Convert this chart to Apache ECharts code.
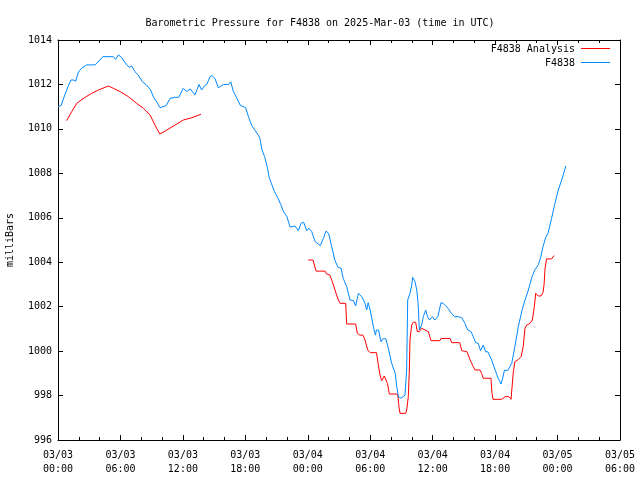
<!DOCTYPE html>
<html>
<head>
<meta charset="utf-8">
<script src="https://cdn.jsdelivr.net/npm/echarts@6/dist/echarts.min.js"></script>
<style>html,body{margin:0;padding:0;background:#fff}#c{width:640px;height:480px}</style>
</head>
<body>
<div id="c"></div>
<script>
// Hours since 2025-03-03 00:00 UTC
const xTickLabels = ['03/03\n00:00','03/03\n06:00','03/03\n12:00','03/03\n18:00','03/04\n00:00','03/04\n06:00','03/04\n12:00','03/04\n18:00','03/05\n00:00','03/05\n06:00'];

const blueHours = [0.0,0.3,0.67,1.0,1.25,1.5,1.7,1.95,2.27,2.75,3.1,3.55,4.04,4.3,5.0,5.3,5.54,5.8,6.1,6.6,6.85,7.08,7.4,7.7,8.1,8.5,8.9,9.16,9.5,9.8,9.96,10.4,10.76,11.2,11.6,12.04,12.37,12.7,13.16,13.55,13.8,14.1,14.3,14.6,14.8,15.1,15.4,15.57,15.9,16.4,16.6,16.85,17.2,17.5,17.65,18.03,18.3,18.6,18.9,19.25,19.4,19.6,19.85,20.1,20.3,20.5,20.8,21.1,21.4,21.7,22.0,22.3,22.77,23.1,23.35,23.6,23.9,24.1,24.38,24.7,25.2,25.5,25.75,26.0,26.3,26.6,26.9,27.2,27.4,27.74,28.06,28.4,28.6,28.86,29.2,29.5,29.66,29.8,30.0,30.3,30.5,30.6,30.8,31.04,31.26,31.5,31.74,32.06,32.4,32.55,32.7,32.96,33.08,33.34,33.5,33.6,33.82,33.99,34.08,34.3,34.47,34.6,34.72,34.94,35.1,35.33,35.5,35.7,35.97,36.2,36.5,36.8,37.0,37.5,37.8,38.1,38.47,38.8,39.1,39.37,39.68,39.9,40.13,40.38,40.6,40.86,41.1,41.3,41.67,42.0,42.3,42.57,42.73,42.9,43.2,43.37,43.6,43.9,44.23,44.55,44.87,45.2,45.5,45.8,46.15,46.4,46.6,46.86,47.1,47.43,47.75,48.07,48.4,48.8];
const blueValues = [1011.0,1011.05,1011.55,1011.95,1012.2,1012.2,1012.15,1012.55,1012.73,1012.88,1012.88,1012.88,1013.1,1013.25,1013.25,1013.25,1013.13,1013.33,1013.22,1012.88,1012.77,1012.83,1012.57,1012.43,1012.12,1011.98,1011.75,1011.45,1011.2,1010.95,1011.0,1011.05,1011.37,1011.42,1011.42,1011.83,1011.68,1011.8,1011.53,1012.0,1011.75,1011.95,1012.0,1012.35,1012.4,1012.25,1011.85,1011.83,1012.0,1012.0,1012.12,1011.68,1011.37,1011.07,1011.0,1010.95,1010.55,1010.17,1009.95,1009.72,1009.57,1009.05,1008.75,1008.3,1007.8,1007.55,1007.17,1006.92,1006.6,1006.25,1006.05,1005.58,1005.63,1005.42,1005.75,1005.8,1005.42,1005.53,1005.38,1004.93,1004.75,1005.07,1005.4,1005.3,1004.7,1004.1,1003.77,1003.73,1003.28,1002.9,1002.3,1002.27,1002.03,1002.6,1002.45,1002.15,1001.85,1002.18,1001.85,1001.1,1000.72,1000.95,1000.95,1000.42,1000.57,1000.55,1000.13,999.45,999.0,998.4,997.95,997.88,997.8,998.02,999.15,1002.3,1002.6,1002.97,1003.32,1003.13,1002.75,1002.15,1000.95,1001.17,1001.55,1001.85,1001.55,1001.4,1001.55,1001.4,1001.55,1002.18,1002.15,1001.92,1001.7,1001.55,1001.55,1001.5,1001.25,1000.95,1000.88,1000.65,1000.38,1000.35,1000.02,1000.27,999.97,999.97,999.6,999.15,998.78,998.52,998.78,999.15,999.12,999.1,999.45,1000.2,1001.1,1001.77,1002.3,1002.75,1003.28,1003.65,1003.88,1004.25,1004.7,1005.12,1005.33,1005.98,1006.65,1007.25,1007.7,1008.33];

// '-' marks the gap in the analysis series
const redHours = [0.83,1.31,1.8,2.6,3.23,3.88,4.84,5.3,5.96,6.76,7.56,8.2,8.84,9.32,9.78,10.28,11.24,12.04,12.85,13.74,18.0,24.05,24.5,24.8,25.66,25.8,26.1,26.36,26.55,26.77,26.94,27.1,27.64,27.74,28.6,28.76,29.0,29.3,29.5,29.76,30.0,30.6,30.78,30.94,31.1,31.35,31.5,31.65,31.84,32.64,32.77,32.86,33.4,33.5,33.66,33.76,33.82,33.98,34.14,34.37,34.52,34.72,34.94,35.26,35.58,35.84,36.7,36.8,37.67,37.83,38.6,38.8,39.3,39.6,39.9,40.07,40.55,40.7,40.86,41.6,41.7,41.8,42.63,42.95,43.33,43.53,43.65,43.75,43.9,44.23,44.5,44.7,44.87,45.03,45.35,45.58,45.77,45.9,46.15,46.4,46.6,46.7,46.8,46.95,47.43,47.66];
const redValues = [1010.37,1010.77,1011.15,1011.42,1011.6,1011.75,1011.93,1011.83,1011.68,1011.45,1011.15,1010.93,1010.63,1010.17,1009.77,1009.9,1010.17,1010.4,1010.5,1010.66,'-',1004.1,1004.1,1003.6,1003.6,1003.47,1003.43,1003.13,1003.05,1002.52,1002.3,1002.15,1002.15,1001.22,1001.22,1000.8,1000.72,1000.72,1000.5,1000.05,999.93,999.93,999.38,998.93,998.67,998.88,998.97,998.55,998.07,998.07,997.47,997.2,997.2,997.35,997.95,999.15,1000.5,1001.17,1001.3,1001.3,1000.88,1000.88,1001.03,1000.95,1000.88,1000.47,1000.47,1000.57,1000.57,1000.38,1000.38,1000.02,999.97,999.6,999.3,999.15,999.15,999.0,998.78,998.78,998.1,997.83,997.83,997.95,997.95,997.83,997.83,999.07,999.52,999.62,999.75,1000.2,1001.03,1001.17,1001.25,1001.4,1002.0,1002.6,1002.48,1002.48,1002.63,1002.97,1003.73,1004.15,1004.15,1004.3];

const seriesNames = ['F4838 Analysis','F4838'];
const seriesColors = ['#ff0000','#0088ff'];

const FONT = '"DejaVu Sans Mono", "Liberation Mono", monospace';
const chart = echarts.init(document.getElementById('c'), null, {renderer:'canvas'});

const tickCommon = {show:true, inside:true, length:5, lineStyle:{color:'#000', width:1}};
const minorCommon = {show:true, splitNumber:3, length:3, lineStyle:{color:'#000', width:1}};
const lineCommon = {show:true, onZero:false, lineStyle:{color:'#000', width:1}};

chart.setOption({
  animation:false,
  backgroundColor:'#fff',
  title:{text:'Barometric Pressure for F4838 on 2025-Mar-03 (time in UTC)', left:'center', top:13,
    textStyle:{fontFamily:FONT, fontSize:10, fontWeight:'normal', color:'#000'}},
  grid:{left:58, right:20, top:40, bottom:40, containLabel:false, outerBoundsMode:'none'},
  xAxis:[
    {type:'value', min:0, max:54, interval:6, position:'bottom',
     axisLine:lineCommon, axisTick:tickCommon, minorTick:minorCommon, splitLine:{show:false},
     axisLabel:{margin:8, lineHeight:14, fontFamily:FONT, fontSize:10, color:'#000',
       formatter:v=>xTickLabels[Math.round(v/6)]}},
    {type:'value', min:0, max:54, interval:6, position:'top',
     axisLine:lineCommon, axisTick:tickCommon, minorTick:minorCommon, splitLine:{show:false},
     axisLabel:{show:false}}
  ],
  yAxis:[
    {type:'value', min:996, max:1014, interval:2, position:'left',
     name:'milliBars', nameLocation:'middle', nameGap:43, nameRotate:90,
     nameTextStyle:{fontFamily:FONT, fontSize:10, color:'#000'},
     axisLine:lineCommon, axisTick:tickCommon, splitLine:{show:false},
     axisLabel:{margin:6, fontFamily:FONT, fontSize:10, color:'#000', formatter:v=>String(v)}},
    {type:'value', min:996, max:1014, interval:2, position:'right',
     axisLine:lineCommon, axisTick:tickCommon, splitLine:{show:false},
     axisLabel:{show:false}}
  ],
  graphic:[
    {type:'text', style:{text:seriesNames[0], x:575, y:49, textAlign:'right', textVerticalAlign:'middle', font:'10px '+FONT, fill:'#000'}},
    {type:'line', shape:{x1:581, y1:48.5, x2:610, y2:48.5}, style:{stroke:seriesColors[0], lineWidth:1}},
    {type:'text', style:{text:seriesNames[1], x:575, y:63, textAlign:'right', textVerticalAlign:'middle', font:'10px '+FONT, fill:'#000'}},
    {type:'line', shape:{x1:581, y1:62.5, x2:610, y2:62.5}, style:{stroke:seriesColors[1], lineWidth:1}}
  ],
  series:[
    {name:seriesNames[0], type:'line', showSymbol:false, connectNulls:false,
     lineStyle:{color:seriesColors[0], width:1}, itemStyle:{color:seriesColors[0]},
     data:redHours.map((h,i)=>[h, redValues[i]])},
    {name:seriesNames[1], type:'line', showSymbol:false,
     lineStyle:{color:seriesColors[1], width:1}, itemStyle:{color:seriesColors[1]},
     data:blueHours.map((h,i)=>[h, blueValues[i]])}
  ]
});
</script>
</body>
</html>
